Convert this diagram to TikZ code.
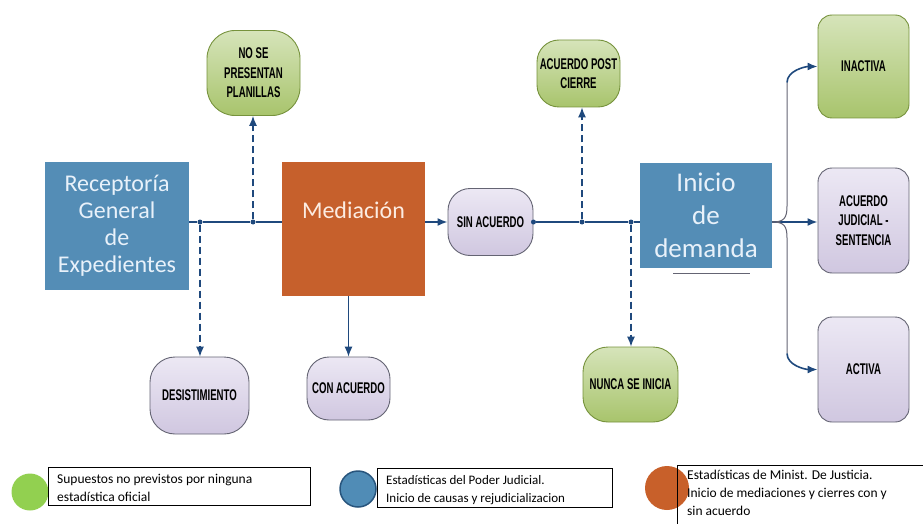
\documentclass[tikz,border=0pt]{standalone}
\usepackage{fontspec}
\setmainfont{Carlito}
\newfontfamily\condfont[FakeStretch=0.62]{Liberation Sans}
\usepackage{xcolor}
\usepackage{tikz}
\usetikzlibrary{shapes,arrows,arrows.meta,positioning,calc}

\definecolor{boxblue}{RGB}{84,141,182}
\definecolor{boxorange}{RGB}{198,96,44}
\definecolor{linenavy}{RGB}{31,73,125}
\definecolor{greentop}{RGB}{214,228,186}
\definecolor{greenbot}{RGB}{168,196,108}
\definecolor{greenline}{RGB}{118,146,60}
\definecolor{lilactop}{RGB}{236,232,244}
\definecolor{lilacbot}{RGB}{208,199,224}
\definecolor{lilacline}{RGB}{100,100,115}
\definecolor{keygreen}{RGB}{146,208,80}
\definecolor{keyblue}{RGB}{80,140,182}
\definecolor{keyorange}{RGB}{200,96,42}

\begin{document}
\begin{tikzpicture}[
    x=1pt, y=-1pt,
    bigbox/.style={rectangle, inner sep=0pt, align=center, font=\fontsize{24}{27}\selectfont},
    blue/.style={bigbox, fill=boxblue, text={rgb,255:red,232;green,241;blue,250}},
    orange/.style={bigbox, fill=boxorange, text={rgb,255:red,252;green,236;blue,226}},
    green/.style={rectangle, draw=greenline, line width=0.9pt, top color=greentop, bottom color=greenbot, inner sep=0pt, align=center, font=\condfont\bfseries\fontsize{15.5}{19.5}\selectfont},
    lilac/.style={rectangle, draw=lilacline, line width=0.9pt, top color=lilactop, bottom color=lilacbot, inner sep=0pt, align=center, font=\condfont\bfseries\fontsize{15.5}{19.5}\selectfont},
    dot/.style={circle, fill=linenavy, inner sep=0pt, minimum size=5pt},
    flow/.style={draw=linenavy, line width=1.6pt},
    maybe/.style={draw=linenavy, line width=1.1pt, dash pattern=on 7pt off 4pt},
    key/.style={draw, line width=0.8pt, anchor=north west, inner sep=0pt},
    keytext/.style={anchor=north west, inner sep=0pt, align=left, font=\fontsize{13.5}{18}\selectfont},
    >={Latex[length=10pt,width=8pt]}
]
\useasboundingbox (0,0) rectangle (923,524);

\node[blue, minimum width=144pt, minimum height=128pt] (recep) at (117,226) {Receptoría\\General\\de\\Expedientes};
\node[orange, minimum width=143pt, minimum height=134pt, text depth=38pt] (med) at (353.5,229) {Mediación};
\node[blue, minimum width=132pt, minimum height=105pt, font=\fontsize{27}{33}\selectfont] (inicio) at (706,215.5) {Inicio\\de\\demanda};

\node[green, minimum width=93pt, minimum height=85pt, rounded corners=28pt] (nopres) at (253.5,73) {NO SE\\PRESENTAN\\PLANILLAS};
\node[lilac, minimum width=99pt, minimum height=77pt, rounded corners=25pt] (desist) at (199.5,395.5) {DESISTIMIENTO};
\node[lilac, minimum width=83pt, minimum height=63pt, rounded corners=22pt] (conacu) at (348.5,388.5) {CON ACUERDO};
\node[lilac, minimum width=85pt, minimum height=67pt, rounded corners=22pt] (sinacu) at (490.5,222) {SIN ACUERDO};
\node[green, minimum width=83pt, minimum height=67pt, rounded corners=22pt] (postc) at (578.5,73.5) {ACUERDO POST\\CIERRE};
\node[green, minimum width=95pt, minimum height=75pt, rounded corners=25pt] (nunca) at (630.5,384.5) {NUNCA SE INICIA};
\node[green, minimum width=91pt, minimum height=103pt, rounded corners=14pt] (inact) at (863.5,66.5) {INACTIVA};
\node[lilac, minimum width=91pt, minimum height=105pt, rounded corners=14pt] (acujud) at (863.5,220.5) {ACUERDO\\JUDICIAL -\\SENTENCIA};
\node[lilac, minimum width=91pt, minimum height=105pt, rounded corners=14pt] (activa) at (863.5,369.5) {ACTIVA};

\node[dot] (j1) at (200,222) {};
\node[dot] (j2) at (253,222) {};
\node[dot] (j0) at (sinacu.east) {};
\node[dot] (j3) at (582,222) {};
\node[dot] (j4) at (631,222) {};
\coordinate (brace) at (787,222);

\draw[flow] (recep.east |- j1) -- (j1) -- (j2) -- (med.west |- j2);
\draw[maybe, ->] (j1) -- (j1 |- desist.north);
\draw[maybe, ->] (j2) -- (j2 |- nopres.south);
\draw[draw=linenavy, line width=1pt, ->] (conacu.north |- med.south) -- (conacu.north);
\draw[flow, ->] (med.east |- sinacu) -- (sinacu.west);
\draw[flow] (j0) -- (j3) -- (j4) -- (inicio.west |- j4);
\draw[maybe, ->] (j3) -- (j3 |- postc.south);
\draw[maybe, ->] (j4) -- (j4 |- nunca.north);
\draw[flow, ->] (inicio.east |- brace) -- (acujud.west |- brace);
\draw[draw=lilacline, line width=1pt] (inicio.east |- brace) .. controls +(12,0) and +(0,12) .. ($(brace)+(0,-16)$) -- ($(brace |- inact.west)+(0,16)$);
\draw[draw=lilacline, line width=1pt] (inicio.east |- brace) .. controls +(12,0) and +(0,-12) .. ($(brace)+(0,16)$) -- ($(brace |- activa.west)+(0,-16)$);
\draw[flow, ->] ($(brace |- inact.west)+(0,16)$) .. controls +(0,-12) and +(-12,0) .. (inact.west);
\draw[flow, ->] ($(brace |- activa.west)+(0,-16)$) .. controls +(0,12) and +(-12,0) .. (activa.west);
\draw[draw=lilacline, line width=1pt] (673,273) -- (750,273);

\node[circle, fill=keygreen, minimum width=37pt, inner sep=0pt] (kgreen) at (30,492) {};
\node[key, minimum width=262pt, minimum height=38pt] (kbox1) at (48,467) {};
\node[keytext] (ktext1) at (57,474) {Supuestos no previstos por ninguna\\estadística oficial};

\node[circle, fill=keyblue, draw={rgb,255:red,40;green,85;blue,125}, line width=1.5pt, minimum width=36pt, inner sep=0pt] (kblue) at (358,489) {};
\node[key, minimum width=235pt, minimum height=39pt] (kbox2) at (377,468) {};
\node[keytext, font=\fontsize{13}{18}\selectfont] (ktext2) at (386,475) {Estadísticas del Poder Judicial.\\Inicio de causas y rejudicializacion};

\node[circle, fill=keyorange, minimum width=44pt, inner sep=0pt] (korange) at (667,488) {};
\node[key, minimum width=260pt, minimum height=70pt] (kbox3) at (677,465) {};
\node[keytext] (ktext3) at (687,470) {Estadísticas de Minist. De Justicia.\\Inicio de mediaciones y cierres con y\\sin acuerdo};

\end{tikzpicture}
\end{document}
